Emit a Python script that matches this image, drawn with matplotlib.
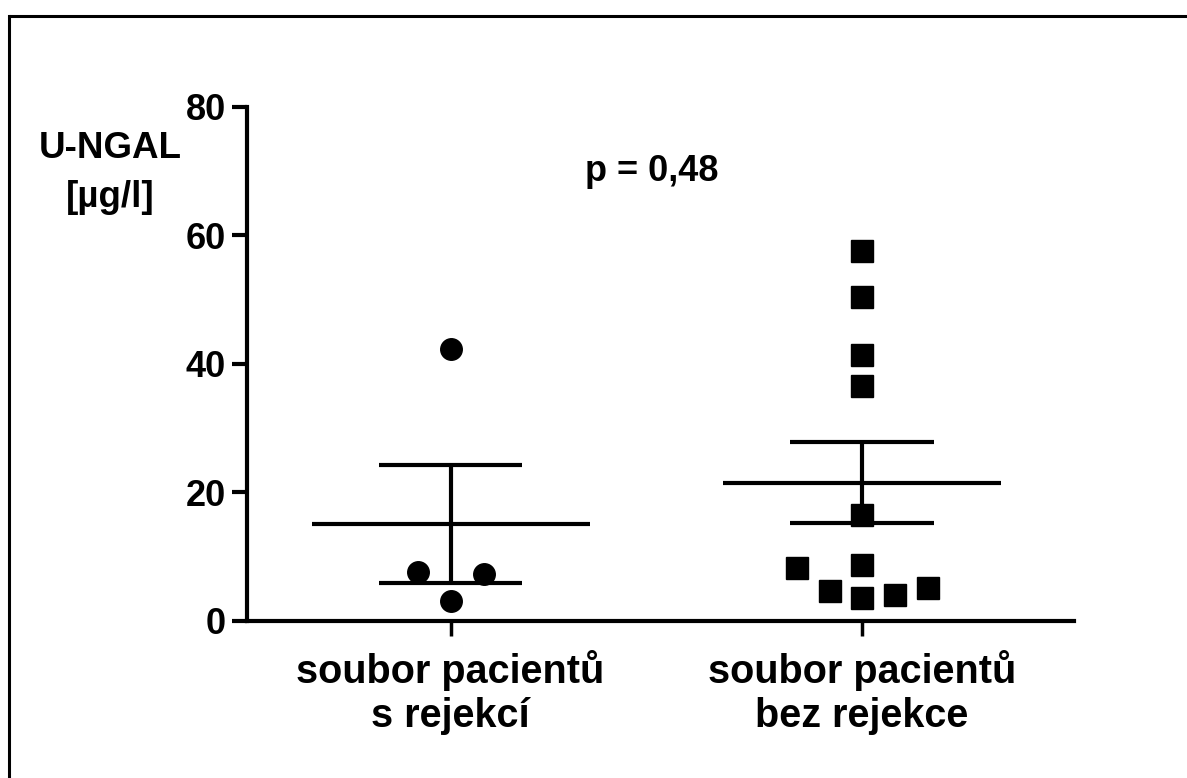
import numpy as np
import matplotlib

matplotlib.use("Agg")

import matplotlib.pyplot as plt
from matplotlib import font_manager
from matplotlib.lines import Line2D

# U-NGAL values per patient group
groups = ["soubor pacientů\ns rejekcí", "soubor pacientů\nbez rejekce"]
rejection = [42.3, 7.6, 7.3, 3.1]
no_rejection = [57.6, 50.4, 41.4, 36.6, 16.5, 8.7, 3.6, 8.2, 4.7, 4.0, 5.1]
y_ticks = [0, 20, 40, 60, 80]
p_label = "p = 0,48"

# horizontal spread of overlapping points within a column
rejection_spread = [0, -0.08, 0.08, 0]
no_rejection_spread = [0, 0, 0, 0, 0, 0, 0, -0.158, -0.078, 0.08, 0.16]


def pick_font(names):
    for name in names:
        try:
            font_manager.findfont(name, fallback_to_default=False)
            return name
        except ValueError:
            continue
    return "DejaVu Sans"


MAIN_FONT = pick_font(["Liberation Sans", "Arial"])

plt.rcParams["font.family"] = [MAIN_FONT, "DejaVu Sans"]
plt.rcParams["font.weight"] = "bold"

fig = plt.figure(figsize=(11.87, 7.78), dpi=100)
ax = fig.add_axes([0.2081, 0.2018, 0.6965, 0.6607])

LW = 3.0
series = [
    (1, rejection, rejection_spread, "o"),
    (2, no_rejection, no_rejection_spread, "s"),
]
for pos, values, spread, marker in series:
    vals = np.asarray(values)
    xs = pos + np.asarray(spread)
    ax.plot(xs, vals, linestyle="none", marker=marker, markersize=15.5,
            color="black", zorder=3)

    # mean line with +/- SEM whiskers
    mean = vals.mean()
    sem = vals.std(ddof=1) / np.sqrt(len(vals))
    ax.hlines(mean, pos - 0.338, pos + 0.338, color="black", linewidth=LW, zorder=4)
    ax.hlines([mean - sem, mean + sem], pos - 0.174, pos + 0.174,
              color="black", linewidth=LW, zorder=4)
    ax.vlines(pos, mean - sem, mean + sem, color="black", linewidth=LW, zorder=4)

ax.set_xlim(0.505, 2.515)
ax.set_ylim(0, 80)
ax.set_yticks(y_ticks)
ax.set_xticks([1, 2])
ax.set_xticklabels(groups, fontsize=28.5, fontweight="bold", linespacing=1.2)

for side in ("top", "right"):
    ax.spines[side].set_visible(False)
ax.spines["left"].set_linewidth(LW)
ax.spines["bottom"].set_linewidth(LW)
ax.spines["left"].set_bounds(0, 80)
ax.tick_params(axis="y", length=11, width=LW, pad=4, labelsize=26)
ax.tick_params(axis="x", length=11, width=2.5, pad=10)
for lbl in ax.get_yticklabels():
    lbl.set_fontweight("bold")

ax.text(1.49, 69.9, p_label, fontsize=26, fontweight="bold",
        ha="center", va="center")

fig.text(110 / 1187, 1 - 173 / 778, "U-NGAL\n[µg/l]", fontsize=26.5,
         fontweight="bold", ha="center", va="center", multialignment="center",
         linespacing=1.5)

# border lines along the top and left edge of the figure
fig.add_artist(Line2D([8.5 / 1187, 1.0], [1 - 15.5 / 778] * 2,
                      transform=fig.transFigure, color="black", linewidth=2.2,
                      solid_capstyle="butt"))
fig.add_artist(Line2D([8.5 / 1187] * 2, [0.0, 1 - 15.5 / 778],
                      transform=fig.transFigure, color="black", linewidth=2.2,
                      solid_capstyle="projecting"))

fig.savefig("out.png", dpi=100, facecolor="white")
plt.close(fig)
